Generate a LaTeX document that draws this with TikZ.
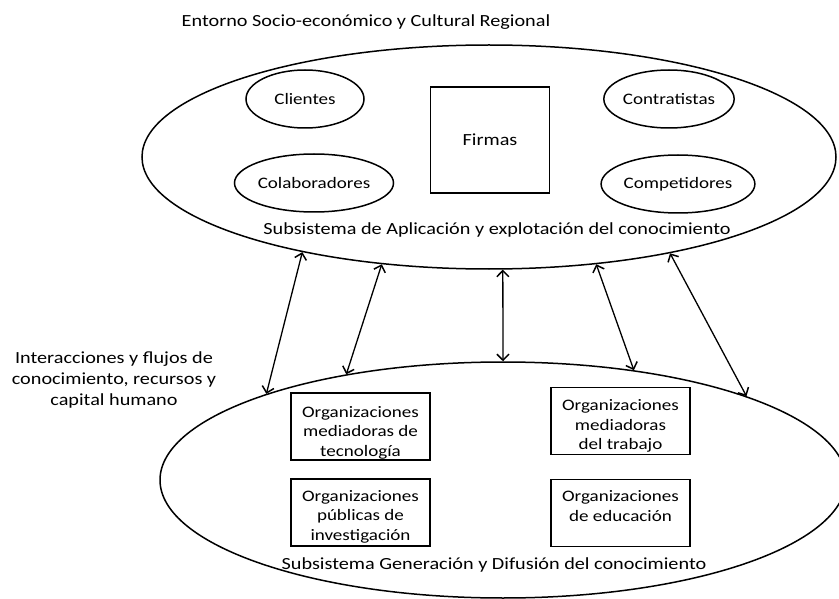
\documentclass[tikz,border=0pt]{standalone}
\usepackage{fontspec}
\setmainfont{Carlito}[FakeStretch=1.19]
\usetikzlibrary{shapes.geometric,arrows.meta}
\begin{document}
\begin{tikzpicture}[x=1pt,y=-1pt,
  bigtext/.style={font=\fontsize{17}{21}\selectfont},
  smalltext/.style={font=\fontsize{16}{19.5}\selectfont},
  frame/.style={draw, line width=1.5pt},
  bigell/.style={frame, ellipse, inner sep=0pt},
  smallell/.style={frame, ellipse, smalltext, minimum height=58pt, inner sep=0pt},
  orgbox/.style={frame, minimum width=139pt, minimum height=67pt, inner sep=0pt},
  orgtext/.style={smalltext, align=center, inner sep=0pt, anchor=north},
  tip/.tip={Straight Barb[length=6pt,width=12pt,line width=1.5pt]},
  link/.style={line width=1.3pt, tip-tip},
  label/.style={bigtext, align=center, inner sep=0pt}
]
\useasboundingbox (0,0) rectangle (839,599);

% knowledge application subsystem
\node[bigell, minimum width=694pt, minimum height=224pt] (apl) at (489,157) {};
\node[smallell, minimum width=118pt] (cli) at (305,99) {Clientes};
\node[smallell, minimum width=118pt] (con) at (669,99) {Contratistas};
\node[smallell, minimum width=120pt] (col) at (314,183) {Colaboradores};
\node[smallell, minimum width=120pt] (com) at (678,184) {Competidores};
\node[frame, bigtext, minimum width=119pt, minimum height=106pt] (fir) at (490,140) {Firmas};
\node[label] (aplt) at (497,230) {Subsistema de Aplicación y explotación del conocimiento};

% knowledge generation subsystem
\node[bigell, minimum width=686pt, minimum height=236pt] (gen) at (503,480) {};
\node[orgbox] (tec) at (360.5,426.5) {};
\node[orgbox] (tra) at (620.5,421) {};
\node[orgbox] (inv) at (360.5,512.5) {};
\node[orgbox] (edu) at (620.5,513) {};
\node[orgtext] (tecT) at ([yshift=-14pt]tec.north) {Organizaciones\\mediadoras de\\tecnología};
\node[orgtext] (traT) at ([yshift=-13pt]tra.north) {Organizaciones\\mediadoras\\del trabajo};
\node[orgtext] (invT) at ([yshift=-12pt]inv.north) {Organizaciones\\públicas de\\investigación};
\node[orgtext] (eduT) at ([yshift=-12pt]edu.north) {Organizaciones\\de educación};
\node[label] (gent) at (494,565) {Subsistema Generación y Difusión del conocimiento};

% surroundings and flows
\node[label] (ent) at (366,22) {Entorno Socio-económico y Cultural Regional};
\node[label] (flu) at (114,380) {Interacciones y flujos de\\conocimiento, recursos y\\capital humano};

% two-way flows between the subsystems
\draw[link] (apl.207.7) -- (gen.160.1);
\draw[link] (apl.225) -- (gen.146.6);
\draw[link] (apl.277.4) -- (gen.90);
\draw[link] (apl.315) -- (gen.40.5);
\draw[link] (apl.332.4) -- (gen.19.5);
\end{tikzpicture}
\end{document}
